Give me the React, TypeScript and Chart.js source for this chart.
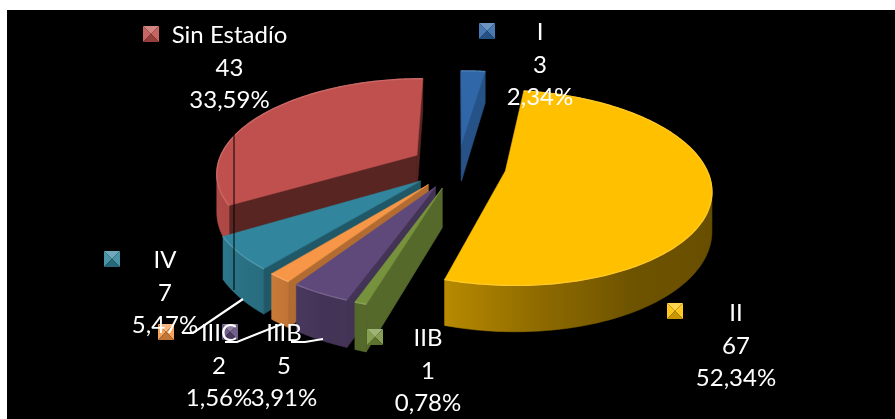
import React, { useEffect, useRef } from "react";
import { Chart, registerables } from "chart.js";

Chart.register(...registerables);

const categories = ["I", "II", "IIB", "IIIB", "IIIC", "IV", "Sin Estadío"];
const counts = [3, 67, 1, 5, 2, 7, 43];
const percents = ["2,34%", "52,34%", "0,78%", "3,91%", "1,56%", "5,47%", "33,59%"];
const colors = ["#2f67a9", "#FFC000", "#76923C", "#5F497A", "#F79646", "#31859C", "#C0504D"];
const sideShades = [0.8, 0.6, 0.72, 0.7, 0.72, 0.66, 0.46];
// label layout: centre x, first-line centre y, swatch x, swatch y
const labelX = [540, 736, 428, 284, 219, 165, 229.5];
const labelY = [32, 313, 338, 333, 333, 260, 35];
const swatchX = [479, 667, 367, 222, 158, 104, 143];
const swatchY = [23, 303, 329, 324, 324, 251, 26];
const leaders = [
  [[243, 299], [193, 333], [182, 333]],
  [[282, 324], [237, 342], [225, 342]],
  [[323, 339], [305, 342], [291, 342]],
];

const X0 = 458, Y0 = 166, RX = 200, RY = 93, P = 0.171, H = 38;

function proj(wx: number, wv: number, drop = 0) {
  const k = 1 / (1 - P * wv);
  return { x: X0 + wx * RX * k, y: Y0 + wv * RY * k + drop * k };
}
function mix(hex: string, f: number) {
  const n = parseInt(hex.slice(1), 16);
  const c = [(n >> 16) & 255, (n >> 8) & 255, n & 255].map((v) =>
    Math.round(f <= 1 ? v * f : v + (255 - v) * (f - 1))
  );
  return `rgb(${c[0]},${c[1]},${c[2]})`;
}
const shadeStops = [[0, 0.4], [100, 0.4], [150, 0.43], [175, 0.56], [197, 0.72], [205, 0.7], [217, 0.8], [240, 0.9], [260, 0.92], [360, 0.9]];
function wallShade(deg: number) {
  for (let i = 1; i < shadeStops.length; i++) {
    const [a, fa] = shadeStops[i - 1], [b, fb] = shadeStops[i];
    if (deg <= b) return fa + ((fb - fa) * (deg - a)) / (b - a);
  }
  return 0.9;
}
type Pt = { x: number; y: number };
function poly(ctx: CanvasRenderingContext2D, pts: Pt[], fill: any, hair = 0.6) {
  ctx.beginPath();
  pts.forEach((p, i) => (i ? ctx.lineTo(p.x, p.y) : ctx.moveTo(p.x, p.y)));
  ctx.closePath();
  ctx.fillStyle = fill;
  ctx.fill();
  if (hair > 0) {
    ctx.strokeStyle = fill;
    ctx.lineWidth = hair;
    ctx.stroke();
  }
}

const pie3d = {
  id: "pie3d",
  beforeDraw(chart: any) {
    const { ctx } = chart;
    ctx.fillStyle = "#ffffff";
    ctx.fillRect(0, 0, chart.width, chart.height);
    ctx.fillStyle = "#000000";
    ctx.fillRect(7, 10, chart.width - 7, chart.height - 10);
  },
  beforeDatasetsDraw(chart: any) {
    const ctx: CanvasRenderingContext2D = chart.ctx;
    const arcs: any[] = chart.getDatasetMeta(0).data;
    const order = arcs
      .map((a, i) => ({ a, i, mid: (a.startAngle + a.endAngle) / 2 }))
      .sort((p, q) => Math.sin(p.mid) - Math.sin(q.mid));
    for (const { a, i, mid } of order) {
      const d = a.options.offset / a.outerRadius;
      const ox = Math.cos(mid) * d, ov = Math.sin(mid) * d;
      const col = colors[i];
      const n = Math.max(2, Math.ceil(((a.endAngle - a.startAngle) * 180) / Math.PI));
      const angs: number[] = [];
      for (let s = 0; s <= n; s++) angs.push(a.startAngle + ((a.endAngle - a.startAngle) * s) / n);
      const rim = angs.map((t) => [ox + Math.cos(t), ov + Math.sin(t)]);
      const apex = proj(ox, ov);
      const apexLow = proj(ox, ov, H);
      const midPt = proj(ox + Math.cos(mid), ov + Math.sin(mid));
      const radial = (idx: number) => {
        const B = proj(rim[idx][0], rim[idx][1]);
        const BL = proj(rim[idx][0], rim[idx][1], H);
        const ex = B.x - apex.x, ey = B.y - apex.y;
        const inside = ex * (midPt.y - apex.y) - ey * (midPt.x - apex.x);
        if (ex * inside < 0) poly(ctx, [apex, B, BL, apexLow], mix(col, sideShades[i]));
      };
      radial(0);
      radial(n);
      // outer wall: camera-facing rim points, filled as one shape with a horizontal gradient
      const facing: number[] = [];
      for (let s = 0; s < n; s++) {
        const p = proj(rim[s][0], rim[s][1]);
        const q = proj(rim[s + 1][0], rim[s + 1][1]);
        if (q.x < p.x) {
          if (!facing.length) facing.push(s);
          facing.push(s + 1);
        }
      }
      if (facing.length > 1) {
        const tops = facing.map((s) => proj(rim[s][0], rim[s][1]));
        const lows = facing.map((s) => proj(rim[s][0], rim[s][1], H)).reverse();
        const x0 = tops[0].x, x1 = tops[tops.length - 1].x;
        const g = ctx.createLinearGradient(x0, 0, x1, 0);
        facing.forEach((s, j) => {
          const deg = (((angs[s] + Math.PI / 2) * 180) / Math.PI + 360) % 360;
          g.addColorStop(Math.min(1, Math.max(0, (tops[j].x - x0) / (x1 - x0))), mix(col, wallShade(deg)));
        });
        poly(ctx, [...tops, ...lows], g);
      }
      const top = rim.map((r) => proj(r[0], r[1]));
      poly(ctx, [apex, ...top], col);
      ctx.beginPath();
      top.forEach((p, j) => (j ? ctx.lineTo(p.x, p.y) : ctx.moveTo(p.x, p.y)));
      ctx.strokeStyle = mix(col, 1.14);
      ctx.lineWidth = 1.4;
      ctx.stroke();
    }
    // thin black callout line
    ctx.strokeStyle = "#000000";
    ctx.lineWidth = 1;
    ctx.beginPath();
    ctx.moveTo(234, 128);
    ctx.lineTo(234, 290);
    ctx.stroke();
    // swatches
    arcs.forEach((_, i) => {
      const x = swatchX[i], y = swatchY[i], s = 16, c = colors[i];
      const C = { x: x + s / 2, y: y + s / 2 };
      const tl = { x, y }, tr = { x: x + s, y }, bl = { x, y: y + s }, br = { x: x + s, y: y + s };
      poly(ctx, [tl, tr, C], mix(c, 1.3), 0);
      poly(ctx, [tl, bl, C], mix(c, 1.12), 0);
      poly(ctx, [tr, br, C], mix(c, 1.12), 0);
      poly(ctx, [bl, br, C], mix(c, 0.78), 0);
    });
    // leaders
    ctx.strokeStyle = "#ffffff";
    ctx.lineWidth = 2.2;
    leaders.forEach((l) => {
      ctx.beginPath();
      l.forEach((p, j) => (j ? ctx.lineTo(p[0], p[1]) : ctx.moveTo(p[0], p[1])));
      ctx.stroke();
    });
    // data labels
    ctx.fillStyle = "#ffffff";
    ctx.font = "24px Lato";
    ctx.textAlign = "center";
    ctx.textBaseline = "middle";
    categories.forEach((cat, i) => {
      ctx.fillText(cat, labelX[i], labelY[i]);
      ctx.fillText(String(counts[i]), labelX[i], labelY[i] + 33);
      ctx.fillText(percents[i], labelX[i], labelY[i] + 65);
    });
    return false;
  },
};

export default function App() {
  const ref = useRef<HTMLCanvasElement>(null);
  useEffect(() => {
    const chart = new Chart(ref.current!, {
      type: "pie",
      data: {
        labels: categories,
        datasets: [{ data: counts, backgroundColor: colors, offset: 45, borderWidth: 0 }],
      },
      options: {
        responsive: false,
        animation: false,
        rotation: 0,
        plugins: { legend: { display: false }, tooltip: { enabled: false } },
      },
      plugins: [pie3d as any],
    });
    return () => chart.destroy();
  }, []);
  return (
    <div style={{ position: "fixed", left: 0, top: 0 }}>
      <canvas ref={ref} width={895} height={419} style={{ display: "block" }} />
    </div>
  );
}
